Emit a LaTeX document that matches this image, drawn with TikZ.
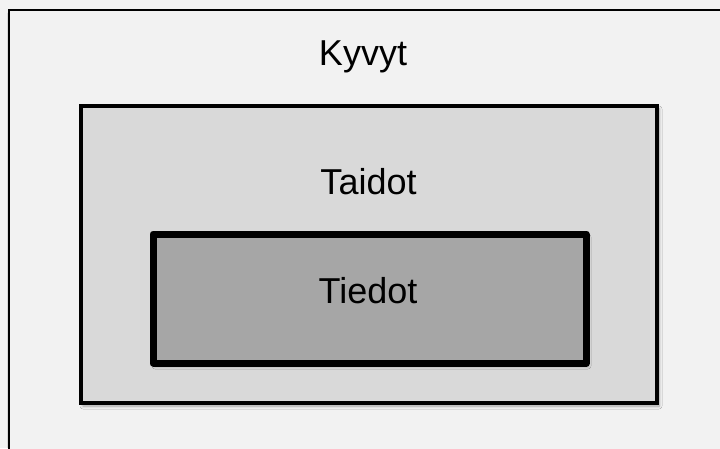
\documentclass[tikz,border=0pt]{standalone}
\usepackage{fontspec}
\setmainfont{Liberation Sans}
\usetikzlibrary{shadows.blur}
\definecolor{bgout}{HTML}{F2F2F2}
\definecolor{bgmid}{HTML}{D9D9D9}
\definecolor{bgin}{HTML}{A6A6A6}
\tikzset{
  lbl/.style={font=\fontsize{36}{40}\selectfont, text=black, anchor=base, inner sep=0pt},
  boxshadow/.style={blur shadow={shadow xshift=2pt, shadow yshift=-3pt, shadow blur steps=6, shadow opacity=35, shadow blur radius=3pt}},
  framebox/.style={draw=black, boxshadow, anchor=north west, inner sep=0pt, outer sep=0pt},
}
\begin{document}
\begin{tikzpicture}[x=1pt,y=1pt]
\useasboundingbox (0,0) rectangle (720,448);
\fill[bgout] (0,0) rectangle (720,448);
% outer box (extends beyond the canvas)
\node[framebox, line width=2.5pt, fill=bgout, minimum width=760pt, minimum height=480pt] (outer) at (9,438) {};
% middle box
\node[framebox, line width=4pt, fill=bgmid, minimum width=576pt, minimum height=297pt] (mid) at (81,342) {};
% inner box
\node[framebox, line width=7pt, line join=round, fill=bgin, minimum width=433pt, minimum height=129pt] (inn) at (153,214) {};
\node[lbl] (kyvyt) at (363,382) {Kyvyt};
\node[lbl] (taidot) at (368.5,254) {Taidot};
\node[lbl] (tiedot) at (368,145) {Tiedot};
\useasboundingbox (0,0) rectangle (720,448);
\end{tikzpicture}
\end{document}
